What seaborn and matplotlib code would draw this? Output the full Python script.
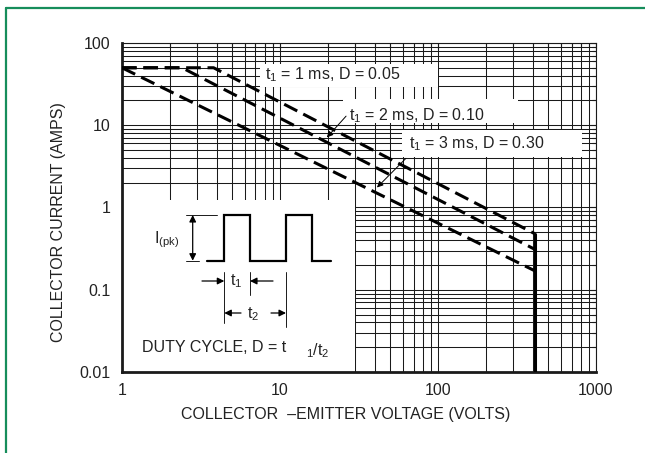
import matplotlib
matplotlib.use("Agg")
import matplotlib.pyplot as plt
from matplotlib import font_manager
from matplotlib.lines import Line2D
from matplotlib.patches import Rectangle
from matplotlib.ticker import NullFormatter
import pandas as pd
import seaborn as sns

# safe operating area curves (collector-emitter volts vs collector amps)
CURVE_NAMES = ["D=0.05", "D=0.10", "D=0.30"]
VOLTS_D005 = [1, 3.8, 410]
AMPS_D005 = [50, 50, 0.48]
VOLTS_D010 = [1, 2.4, 410]
AMPS_D010 = [50, 50, 0.31]
VOLTS_D030 = [1, 410]
AMPS_D030 = [50, 0.17]
LIMIT_VOLTS = [410, 410]
LIMIT_AMPS = [0.48, 0.01]

X_TICKS = [1, 10, 100, 1000]
X_LABELS = ["1", "10", "100", "1000"]
Y_TICKS = [0.01, 0.1, 1, 10, 100]
Y_LABELS = ["0.01", "0.1", "1", "10", "100"]

CURVE_LABELS = [
    r"t$_{\mathregular{1}}$ = 1 ms, D = 0.05",
    r"t$_{\mathregular{1}}$ = 2 ms, D = 0.10",
    r"t$_{\mathregular{1}}$ = 3 ms, D = 0.30",
]

sns.set_style("white")
installed = {f.name for f in font_manager.fontManager.ttflist}
narrow = next((n for n in ["Liberation Sans Narrow", "Liberation Sans", "Roboto"] if n in installed), "DejaVu Sans")
plt.rcParams["font.family"] = [narrow, "DejaVu Sans"]
plt.rcParams["mathtext.fontset"] = "custom"
plt.rcParams["mathtext.rm"] = narrow
plt.rcParams["mathtext.it"] = narrow
plt.rcParams["text.color"] = "#222222"

FS = 11.5
INK = "#1a1a1a"

df = pd.concat(
    [
        pd.DataFrame({"volts": VOLTS_D005, "amps": AMPS_D005, "curve": CURVE_NAMES[0]}),
        pd.DataFrame({"volts": VOLTS_D010, "amps": AMPS_D010, "curve": CURVE_NAMES[1]}),
        pd.DataFrame({"volts": VOLTS_D030, "amps": AMPS_D030, "curve": CURVE_NAMES[2]}),
    ],
    ignore_index=True,
)

fig, ax = plt.subplots(figsize=(6.45, 4.53), dpi=100)
fig.subplots_adjust(left=0.1891, right=0.9240, bottom=0.1788, top=0.9051)

sns.lineplot(data=df, x="volts", y="amps", units="curve", estimator=None, sort=False,
             color="black", lw=2.2, linestyle=(0, (4.8, 2.2)), legend=False, zorder=3, ax=ax)
sns.lineplot(x=LIMIT_VOLTS, y=LIMIT_AMPS, estimator=None, sort=False,
             color="black", lw=2.2, zorder=3, ax=ax)

ax.set_xscale("log")
ax.set_yscale("log")
ax.set_xlim(X_TICKS[0], X_TICKS[-1])
ax.set_ylim(Y_TICKS[0], Y_TICKS[-1])

# hand-drawn style grid so that the white label boxes can sit on top of it
grid_x = [m * 10 ** e for e in range(0, 3) for m in range(1, 10)] + [1000]
grid_y = [m * 10.0 ** e for e in range(-2, 2) for m in range(1, 10)] + [100]
ax.vlines(grid_x, 0.01, 100, colors=INK, lw=0.75, zorder=0.6)
ax.hlines(grid_y, 1, 1000, colors=INK, lw=0.75, zorder=0.6)

# white panels: three labels and the duty-cycle sketch
for (x0, x1, y0, y1) in [(7.5, 100, 29, 55), (25, 320, 10.6, 21), (59, 815, 4.1, 8.8), (1, 30, 0.01, 1.22)]:
    ax.add_patch(Rectangle((x0, y0), x1 - x0, y1 - y0, facecolor="white", lw=0, zorder=1))

ax.text(21.6, 40.7, CURVE_LABELS[0], fontsize=FS, ha="center", va="center", zorder=4)
ax.text(73.6, 13.2, CURVE_LABELS[1], fontsize=FS, ha="center", va="center", zorder=4)
ax.text(176, 6.0, CURVE_LABELS[2], fontsize=FS, ha="center", va="center", zorder=4)
arrow = dict(arrowstyle="-|>", color="black", lw=0.7, shrinkA=0, shrinkB=0, mutation_scale=9)
ax.annotate("", xy=(19.8, 7.1), xytext=(26.2, 12.9), arrowprops=arrow, zorder=4)
ax.annotate("", xy=(41.1, 1.75), xytext=(62.7, 3.96), arrowprops=arrow, zorder=4)

ax.set_axisbelow(False)
ax.set_xticks(X_TICKS, X_LABELS)
ax.set_yticks(Y_TICKS, Y_LABELS)
ax.xaxis.set_minor_formatter(NullFormatter())
ax.yaxis.set_minor_formatter(NullFormatter())
ax.tick_params(which="both", direction="in", top=True, right=True, color=INK,
               labelsize=FS, labelcolor="#222222", pad=8)
ax.tick_params(which="major", length=4, width=0.8)
ax.tick_params(which="minor", length=3, width=0.8)
for side in ["left", "bottom"]:
    ax.spines[side].set_linewidth(2.0)
    ax.spines[side].set_color(INK)
for side in ["top", "right"]:
    ax.spines[side].set_linewidth(0.8)
    ax.spines[side].set_color(INK)

ax.set_xlabel("COLLECTOR  \u2013EMITTER VOLTAGE (VOLTS)", fontsize=FS, color="#222222")
ax.xaxis.set_label_coords(0.4726, -0.13)
ax.xaxis.label.set(ha="center", va="center")
ax.set_ylabel("COLLECTOR CURRENT (AMPS)", fontsize=FS, color="#222222")
ax.yaxis.set_label_coords(-0.133, 0.091)
ax.yaxis.label.set(ha="left", va="center")

# duty-cycle sketch, in a small overlay axes measured in pixels
ins = fig.add_axes([130 / 645, 1 - 370 / 453, 215 / 645, 170 / 453], zorder=5)
ins.set_xlim(130, 345)
ins.set_ylim(370, 200)
ins.axis("off")
ins.patch.set_visible(False)

rise, t1, t2 = 224.3, 25.7, 61.7
hi, lo = 215, 260.7
edges = [206.7, rise, rise + t1, rise + t2, rise + t2 + t1, 330.7]
px, py = [edges[0]], [lo]
for k, e in enumerate(edges[1:-1]):
    level_before, level_after = (lo, hi) if k % 2 == 0 else (hi, lo)
    px += [e, e]
    py += [level_before, level_after]
px.append(edges[-1])
py.append(lo)
ins.plot(px, py, color="black", lw=1.6, solid_joinstyle="miter")

thin = dict(color=INK, lw=0.7)
ins.plot([186, 217], [hi, hi], **thin)
ins.plot([186, 199], [lo, lo], **thin)
ins.plot([rise, rise], [272, 323], **thin)
ins.plot([rise + t1, rise + t1], [272, 295], **thin)
ins.plot([rise + t2, rise + t2], [272, 327], **thin)

dbl = dict(arrowstyle="<|-|>", color="black", lw=0.9, shrinkA=0, shrinkB=0, mutation_scale=10)
one = dict(arrowstyle="-|>", color="black", lw=0.9, shrinkA=0, shrinkB=0, mutation_scale=10)
ins.annotate("", xy=(192.7, hi), xytext=(192.7, lo), arrowprops=dbl)
ins.annotate("", xy=(rise, 281), xytext=(202, 281), arrowprops=one)
ins.annotate("", xy=(rise + t1, 281), xytext=(273, 281), arrowprops=one)
ins.annotate("", xy=(rise, 313), xytext=(241, 313), arrowprops=one)
ins.annotate("", xy=(rise + t2, 313), xytext=(271, 313), arrowprops=one)

ins.text(167, 243, r"I$_{\mathregular{(pk)}}$", fontsize=FS, ha="center", va="baseline")
ins.text(236, 285, r"t$_{\mathregular{1}}$", fontsize=FS, ha="center", va="baseline")
ins.text(253, 318, r"t$_{\mathregular{2}}$", fontsize=FS, ha="center", va="baseline")
ins.text(141.7, 352, "DUTY CYCLE, D = t", fontsize=FS, ha="left", va="baseline")
ins.text(306, 355, r"$_{\mathregular{1}}$/t$_{\mathregular{2}}$", fontsize=FS, ha="left", va="baseline")

# green page frame (top and left edges)
green = "#168d5b"
fig.add_artist(Line2D([5.5 / 645, 1], [1 - 7.5 / 453, 1 - 7.5 / 453], transform=fig.transFigure, color=green, lw=1.6))
fig.add_artist(Line2D([5.5 / 645, 5.5 / 645], [0, 1 - 7.5 / 453], transform=fig.transFigure, color=green, lw=1.6))

fig.savefig("out.png", dpi=100)
